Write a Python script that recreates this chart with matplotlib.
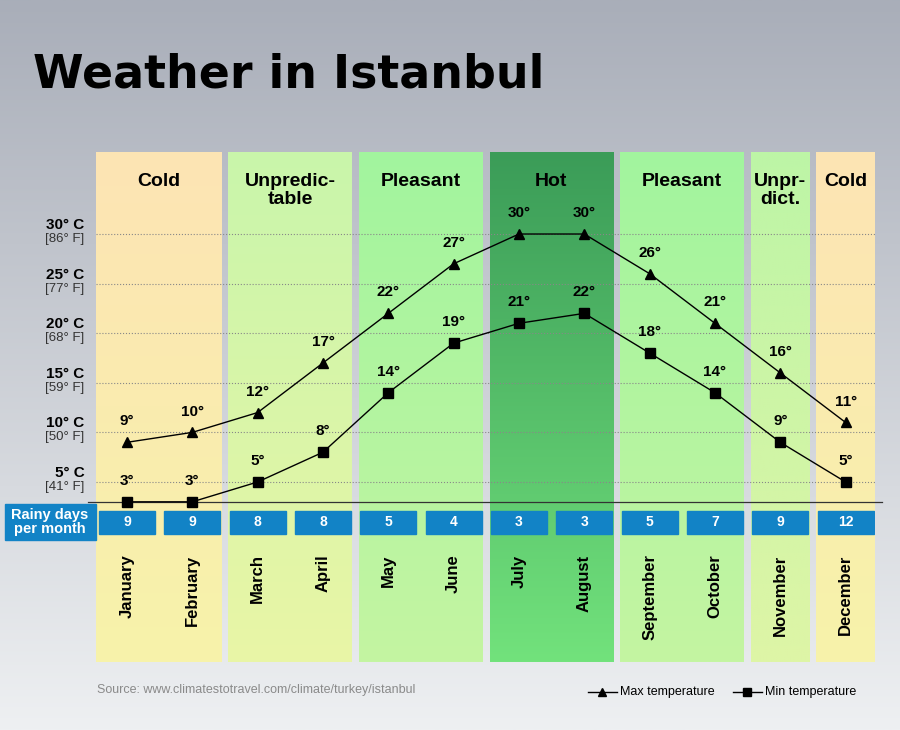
import numpy as np
import matplotlib.pyplot as plt
from matplotlib.colors import LinearSegmentedColormap
from matplotlib.transforms import blended_transform_factory

plt.rcParams['font.family'] = ['Liberation Sans', 'DejaVu Sans']

months = ['January', 'February', 'March', 'April', 'May', 'June', 'July',
          'August', 'September', 'October', 'November', 'December']
t_max = [9, 10, 12, 17, 22, 27, 30, 30, 26, 21, 16, 11]
t_min = [3, 3, 5, 8, 14, 19, 21, 22, 18, 14, 9, 5]
rainy = [9, 9, 8, 8, 5, 4, 3, 3, 5, 7, 9, 12]
seasons = ['Cold', 'Unpredic-\ntable', 'Pleasant', 'Hot', 'Pleasant', 'Unpr-\ndict.', 'Cold']
season_months = [(0, 1), (2, 3), (4, 5), (6, 7), (8, 9), (10, 10), (11, 11)]
y_ticks_c = [5, 10, 15, 20, 25, 30]
y_ticks_f = [41, 50, 59, 68, 77, 86]

band_cols = {
    'Cold': ('#fde4b4', '#f7f3aa'),
    'Unpredic-\ntable': ('#c9f6ab', '#e9f5a6'),
    'Pleasant': ('#a2f49e', '#c4f5a2'),
    'Hot': ('#3b9c58', '#72e27c'),
    'Unpr-\ndict.': ('#bdf5a6', '#def5a6'),
}

fig = plt.figure(figsize=(9, 7.3), dpi=100)
bg = fig.add_axes([0, 0, 1, 1], zorder=-10)
bg.imshow(np.linspace(0, 1, 256)[:, None], aspect='auto',
          cmap=LinearSegmentedColormap.from_list('bg', ['#a9aeb9', '#eef0f2']), extent=[0, 1, 0, 1])
bg.axis('off')

fig.text(33 / 900, 1 - 75 / 730, 'Weather in Istanbul', fontsize=33, fontweight='bold',
         va='center', ha='left', family='DejaVu Sans')

ax = fig.add_axes([96 / 900, 1 - 662 / 730, 779 / 900, 510 / 730])
ax.set_xlim(-0.474, 11.45)
ax.set_ylim(-13.15, 38.27)
ax.axis('off')

for name, (a, b) in zip(seasons, season_months):
    x0 = -0.474 if a == 0 else a - 0.45
    x1 = 11.45 if b == 11 else b + 0.44
    top, bot = band_cols[name]
    cm = LinearSegmentedColormap.from_list('b', [top, bot])
    ax.imshow(np.linspace(0, 1, 256)[:, None], aspect='auto', cmap=cm,
              extent=[x0, x1, -13.15, 38.27], zorder=0)
    ax.text((x0 + x1) / 2, 36.2, name, ha='center', va='top', fontsize=14,
            fontweight='bold', linespacing=1.15)

trans = blended_transform_factory(ax.transAxes, ax.transData)
for c, f in zip(y_ticks_c, y_ticks_f):
    ax.plot([-0.474, 11.45], [c, c], ls=':', color='#888888', lw=0.8, zorder=1)
    ax.text(-0.015, c + 0.2, f'{c}° C', transform=trans, ha='right', va='bottom',
            fontsize=11, fontweight='bold', clip_on=False)
    ax.text(-0.015, c + 0.1, f'[{f}° F]', transform=trans, ha='right', va='top',
            fontsize=9.5, color='#333333', clip_on=False)
ax.plot([-0.6, 11.55], [3.0, 3.0], color='#333333', lw=0.9, clip_on=False, zorder=2)

x = np.arange(12)
ax.plot(x, t_max, color='black', lw=1, marker='^', ms=7, zorder=3)
ax.plot(x, t_min, color='black', lw=1, marker='s', ms=7, zorder=3)
for i in x:
    ax.text(i, t_max[i] + 1.4, f'{t_max[i]}°', ha='center', va='bottom', fontsize=11, fontweight='bold')
    ax.text(i, t_min[i] + 1.4, f'{t_min[i]}°', ha='center', va='bottom', fontsize=11, fontweight='bold')
    ax.add_patch(plt.Rectangle((i - 0.43, -0.2), 0.86, 2.3, color='#1283c6', zorder=3))
    ax.text(i, 0.95, str(rainy[i]), ha='center', va='center', color='white', fontsize=10, fontweight='bold', zorder=4)
    ax.text(i, -2.3, months[i], rotation=90, ha='center', va='top', fontsize=12, fontweight='bold')

fig.patches.append(plt.Rectangle((5 / 900, 1 - 540 / 730), 91 / 900, 36 / 730, color='#1283c6',
                                 transform=fig.transFigure))
fig.text(50 / 900, 1 - 522 / 730, 'Rainy days\nper month', color='white', ha='center', va='center',
         fontsize=10.5, fontweight='bold', linespacing=1.0)

fig.text(97 / 900, 1 - 690 / 730, 'Source: www.climatestotravel.com/climate/turkey/istanbul',
         fontsize=9, color='#8a8a8a', va='center')
lg = fig.add_axes([585 / 900, 1 - 702 / 730, 290 / 900, 20 / 730])
lg.axis('off')
lg.set_xlim(0, 1)
lg.set_ylim(0, 1)
lg.plot([0.01, 0.11], [0.5, 0.5], color='black', lw=1)
lg.plot([0.06], [0.5], marker='^', color='black', ms=6)
lg.text(0.12, 0.5, 'Max temperature', fontsize=9, va='center')
lg.plot([0.51, 0.61], [0.5, 0.5], color='black', lw=1)
lg.plot([0.56], [0.5], marker='s', color='black', ms=6)
lg.text(0.62, 0.5, 'Min temperature', fontsize=9, va='center')

fig.savefig('out.png', dpi=100)
